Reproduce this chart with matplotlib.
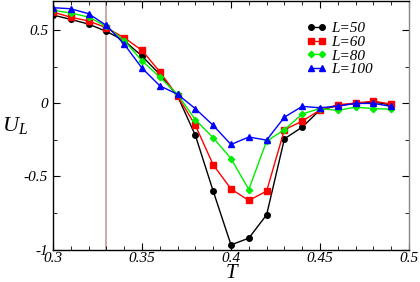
import matplotlib
matplotlib.use("Agg")
import matplotlib.pyplot as plt
from matplotlib.ticker import MultipleLocator

# temperatures
T = [0.30, 0.31, 0.32, 0.33, 0.34, 0.35, 0.36, 0.37, 0.38, 0.39,
     0.40, 0.41, 0.42, 0.43, 0.44, 0.45, 0.46, 0.47, 0.48, 0.49]

# Binder cumulant for each lattice size
u_50 = [0.605, 0.575, 0.543, 0.493, 0.43, 0.324, 0.199, 0.05, -0.219, -0.60,
        -0.968, -0.922, -0.762, -0.242, -0.162, -0.045, -0.015, 0.0, 0.01, -0.01]
u_60 = [0.625, 0.59, 0.564, 0.518, 0.45, 0.363, 0.217, 0.05, -0.15, -0.42,
        -0.585, -0.664, -0.60, -0.18, -0.121, -0.045, -0.009, 0.002, 0.016, -0.005]
u_80 = [0.637, 0.619, 0.591, 0.527, 0.43, 0.292, 0.18, 0.062, -0.112, -0.235,
        -0.377, -0.589, -0.258, -0.18, -0.072, -0.035, -0.048, -0.025, -0.036, -0.039]
u_100 = [0.655, 0.648, 0.614, 0.534, 0.406, 0.242, 0.121, 0.062, -0.036, -0.15,
         -0.281, -0.23, -0.251, -0.094, -0.02, -0.03, -0.018, 0.0, 0.0, -0.02]

T_c = 0.33

serif = "Liberation Serif"
plt.rcParams['font.family'] = serif
plt.rcParams['mathtext.fontset'] = 'custom'
plt.rcParams['mathtext.it'] = 'Liberation Serif:italic'
plt.rcParams['mathtext.rm'] = 'Liberation Serif'

fig = plt.figure(figsize=(4.2, 2.82), dpi=100)
ax = fig.add_axes([0.126, 0.115, 0.848, 0.881])

ax.axvline(T_c, color="#c9a3a3", lw=1.3, zorder=1)
ax.plot(T, u_50, "-o", color="black", ms=4, lw=1, label="L=50")
ax.plot(T, u_60, "-s", color="red", ms=4, lw=1, label="L=60")
ax.plot(T, u_80, "-D", color="#00ee00", ms=3.2, lw=1, label="L=80")
ax.plot(T, u_100, "-^", color="blue", ms=4, lw=1, label="L=100")

ax.set_xlim(0.3, 0.5)
ax.set_ylim(-1, 0.7)
ax.xaxis.set_minor_locator(MultipleLocator(0.01))
ax.yaxis.set_minor_locator(MultipleLocator(0.25))
ax.tick_params(which="both", direction="in", top=True, right=True)
ax.tick_params(which="major", length=5)
ax.tick_params(which="minor", length=3)
ax.tick_params(axis="x", pad=1.5)
ax.set_xticks([0.3, 0.35, 0.4, 0.45, 0.5])
ax.set_xticklabels(["0.3", "0.35", "0.4", "0.45", "0.5"], fontstyle="italic", fontsize=11)
ax.set_yticks([-1, -0.5, 0, 0.5])
ax.set_yticklabels(["-1", "-0.5", "0", "0.5"], fontstyle="italic", fontsize=11)
for s in ax.spines.values():
    s.set_linewidth(1)
ax.spines["right"].set_color("#888888")

ax.set_xlabel("T", fontsize=15, fontstyle="italic", va="top")
ax.xaxis.set_label_coords(0.5, -0.06)
ax.set_ylabel("$U_L$", fontsize=16, rotation=0, ha="center", va="center")
ax.yaxis.set_label_coords(-0.107, 0.5)

leg = ax.legend(loc="upper left", bbox_to_anchor=(0.713, 0.918), frameon=False,
                prop={"family": serif, "style": "italic", "size": 11},
                numpoints=2, handlelength=1.3, handletextpad=0.3,
                labelspacing=0.0, borderpad=0, borderaxespad=0)

fig.savefig("out.png", dpi=100)
